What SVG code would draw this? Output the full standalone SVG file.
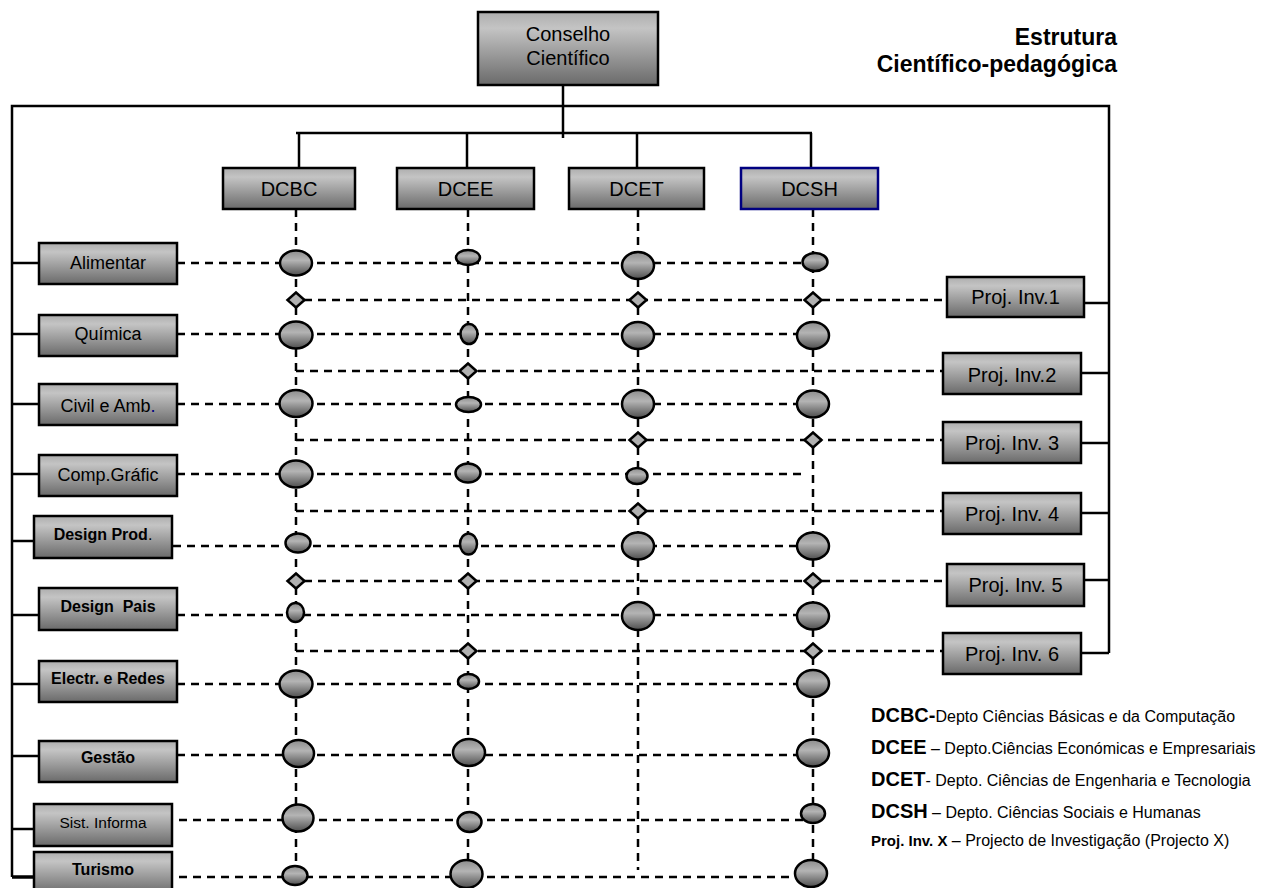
<svg xmlns="http://www.w3.org/2000/svg" width="1262" height="888" viewBox="0 0 1262 888">
<defs>
<linearGradient id="gbox" x1="0" y1="0" x2="0" y2="1">
<stop offset="0" stop-color="#adadad"/><stop offset="0.22" stop-color="#c4c4c4"/><stop offset="1" stop-color="#6a6a6a"/>
</linearGradient>
<linearGradient id="gell" x1="0" y1="0" x2="0" y2="1">
<stop offset="0" stop-color="#8c8c8c"/><stop offset="0.4" stop-color="#b4b4b4"/><stop offset="1" stop-color="#4e4e4e"/>
</linearGradient>
<style>
text{font-family:"Liberation Sans",Arial,Helvetica,sans-serif;fill:#000}
.box{fill:url(#gbox);stroke:#000;stroke-width:2.5}
.blue{stroke:#000080}
.solid{stroke:#000;stroke-width:2.5;fill:none}
.dash{stroke:#000;stroke-width:2.5;stroke-dasharray:8 6;fill:none}
.ell{fill:url(#gell);stroke:#000;stroke-width:2.5}
.dia{fill:#b0b0b0;stroke:#000;stroke-width:2.5}
.lbl{font-size:18px;text-anchor:middle}
.lblb{font-size:16px;font-weight:bold;text-anchor:middle}
.dep{font-size:20px;text-anchor:middle}
.ttl{font-size:23px;font-weight:bold;text-anchor:end}
.lgb{font-size:20px;font-weight:bold}
.lgd{font-size:16px;font-weight:normal}
</style>
</defs>
<rect width="1262" height="888" fill="#fff"/>

<g id="connectors">
<polyline class="solid" points="563,85 563,138"/>
<polyline class="solid" points="12,877 12,106 1109,106 1109,653"/>
<polyline class="solid" points="296,133 812,133"/>
<line class="solid" x1="299" y1="133" x2="299" y2="168"/>
<line class="solid" x1="467" y1="133" x2="467" y2="168"/>
<line class="solid" x1="637" y1="133" x2="637" y2="168"/>
<line class="solid" x1="811" y1="133" x2="811" y2="168"/>
<line class="solid" x1="12" y1="263" x2="39" y2="263"/>
<line class="solid" x1="12" y1="334" x2="39" y2="334"/>
<line class="solid" x1="12" y1="404" x2="39" y2="404"/>
<line class="solid" x1="12" y1="474" x2="39" y2="474"/>
<line class="solid" x1="12" y1="541" x2="34" y2="541"/>
<line class="solid" x1="12" y1="615" x2="39" y2="615"/>
<line class="solid" x1="12" y1="684" x2="39" y2="684"/>
<line class="solid" x1="12" y1="756" x2="39" y2="756"/>
<line class="solid" x1="12" y1="829" x2="37" y2="829"/>
<line class="solid" x1="12" y1="877" x2="37" y2="877" style="stroke-width:3.5"/>
<line class="solid" x1="1084" y1="303" x2="1109" y2="303"/>
<line class="solid" x1="1081" y1="373" x2="1109" y2="373"/>
<line class="solid" x1="1081" y1="443" x2="1109" y2="443"/>
<line class="solid" x1="1081" y1="513" x2="1109" y2="513"/>
<line class="solid" x1="1084" y1="580" x2="1109" y2="580"/>
<line class="solid" x1="1081" y1="653" x2="1109" y2="653"/>
<line class="dash" x1="296" y1="209" x2="296" y2="868"/>
<line class="dash" x1="468" y1="209" x2="468" y2="862"/>
<line class="dash" x1="638" y1="209" x2="638" y2="870"/>
<line class="dash" x1="813" y1="209" x2="813" y2="862"/>
<line class="dash" x1="177" y1="263" x2="803" y2="263"/>
<line class="dash" x1="177" y1="334" x2="800" y2="334"/>
<line class="dash" x1="177" y1="404" x2="800" y2="404"/>
<line class="dash" x1="177" y1="474" x2="805" y2="474"/>
<line class="dash" x1="173" y1="546" x2="800" y2="546"/>
<line class="dash" x1="177" y1="615" x2="800" y2="615"/>
<line class="dash" x1="177" y1="684" x2="800" y2="684"/>
<line class="dash" x1="177" y1="755" x2="800" y2="755"/>
<line class="dash" x1="179" y1="820" x2="803" y2="820"/>
<line class="dash" x1="179" y1="877" x2="797" y2="877"/>
<line class="dash" x1="304" y1="300" x2="947" y2="300"/>
<line class="dash" x1="296" y1="371" x2="943" y2="371"/>
<line class="dash" x1="296" y1="440" x2="943" y2="440"/>
<line class="dash" x1="296" y1="511" x2="943" y2="511"/>
<line class="dash" x1="304" y1="581" x2="947" y2="581"/>
<line class="dash" x1="296" y1="651" x2="943" y2="651"/>
</g>

<g id="links">
<ellipse class="ell" cx="296" cy="263" rx="16" ry="12.5"/>
<ellipse class="ell" cx="468" cy="257.5" rx="12" ry="7.5"/>
<ellipse class="ell" cx="638" cy="265.5" rx="16" ry="13.5"/>
<ellipse class="ell" cx="815" cy="262" rx="12.5" ry="9"/>
<ellipse class="ell" cx="296" cy="335" rx="16.5" ry="13.5"/>
<ellipse class="ell blue" cx="469" cy="334" rx="8.5" ry="10"/>
<ellipse class="ell" cx="638" cy="335.5" rx="16" ry="13.5"/>
<ellipse class="ell" cx="813" cy="335.5" rx="16" ry="13.5"/>
<ellipse class="ell" cx="296" cy="403.5" rx="16.5" ry="13.5"/>
<ellipse class="ell" cx="468.5" cy="404.5" rx="12.5" ry="7.5"/>
<ellipse class="ell" cx="638" cy="404" rx="16" ry="14"/>
<ellipse class="ell" cx="813" cy="404" rx="16" ry="13.5"/>
<ellipse class="ell" cx="296" cy="474" rx="16.5" ry="13.5"/>
<ellipse class="ell" cx="468" cy="473" rx="12.5" ry="9.5"/>
<ellipse class="ell" cx="637" cy="476" rx="10.5" ry="8"/>
<ellipse class="ell" cx="298" cy="543" rx="12.5" ry="9.5"/>
<ellipse class="ell" cx="468.5" cy="544" rx="8.5" ry="10.5"/>
<ellipse class="ell" cx="638" cy="546" rx="16" ry="13.5"/>
<ellipse class="ell" cx="813" cy="546" rx="16" ry="13.5"/>
<ellipse class="ell blue" cx="295.5" cy="612.5" rx="8.5" ry="9.5"/>
<ellipse class="ell" cx="638" cy="616" rx="16" ry="14"/>
<ellipse class="ell" cx="813" cy="616" rx="16" ry="13.5"/>
<ellipse class="ell" cx="296" cy="684" rx="16.5" ry="13.5"/>
<ellipse class="ell" cx="468.5" cy="681.5" rx="10.5" ry="7.5"/>
<ellipse class="ell" cx="813" cy="683.5" rx="16" ry="13.5"/>
<ellipse class="ell" cx="298.5" cy="753.5" rx="15.5" ry="13.5"/>
<ellipse class="ell" cx="469" cy="752.5" rx="16" ry="13.5"/>
<ellipse class="ell" cx="813" cy="753" rx="16" ry="13.5"/>
<ellipse class="ell" cx="298" cy="818" rx="15.5" ry="13.5"/>
<ellipse class="ell" cx="469.5" cy="822" rx="12" ry="10"/>
<ellipse class="ell" cx="813" cy="813.5" rx="12" ry="9.5"/>
<ellipse class="ell" cx="295" cy="875.5" rx="12.5" ry="9.5"/>
<ellipse class="ell" cx="466.5" cy="874" rx="16" ry="14"/>
<ellipse class="ell" cx="811" cy="873.5" rx="16" ry="13.5"/>
<polygon class="dia" points="296,292.5 304.5,300 296,307.5 287.5,300"/>
<polygon class="dia" points="638,292.5 646.5,300 638,307.5 629.5,300"/>
<polygon class="dia blue" points="813,292.5 821.5,300 813,307.5 804.5,300"/>
<polygon class="dia" points="468,363.5 476.5,371 468,378.5 459.5,371"/>
<polygon class="dia" points="638,432.5 646.5,440 638,447.5 629.5,440"/>
<polygon class="dia" points="813,432.5 821.5,440 813,447.5 804.5,440"/>
<polygon class="dia" points="638,503.5 646.5,511 638,518.5 629.5,511"/>
<polygon class="dia" points="296,573.5 304.5,581 296,588.5 287.5,581"/>
<polygon class="dia" points="468,573.5 476.5,581 468,588.5 459.5,581"/>
<polygon class="dia" points="813,573.5 821.5,581 813,588.5 804.5,581"/>
<polygon class="dia" points="468,643.5 476.5,651 468,658.5 459.5,651"/>
<polygon class="dia" points="813,643.5 821.5,651 813,658.5 804.5,651"/>
</g>

<g id="conselho">
<rect class="box" x="478" y="12" width="180" height="73"/>
<text class="dep" x="568" y="41">Conselho</text>
<text class="dep" x="568" y="65">Científico</text>
</g>

<g id="title">
<text class="ttl" x="1117" y="45">Estrutura</text>
<text class="ttl" x="1117" y="72">Científico-pedagógica</text>
</g>

<g id="dcbc"><rect class="box" x="223" y="168" width="132" height="41"/><text class="dep" x="289" y="196">DCBC</text></g>
<g id="dcee"><rect class="box" x="397" y="168" width="137" height="41"/><text class="dep" x="465.5" y="196">DCEE</text></g>
<g id="dcet"><rect class="box" x="569" y="168" width="135" height="41"/><text class="dep" x="636.5" y="196">DCET</text></g>
<g id="dcsh"><rect class="box blue" x="741" y="168" width="137" height="41"/><text class="dep" x="809.5" y="196">DCSH</text></g>

<g id="alimentar"><rect class="box" x="39" y="243" width="138" height="41"/><text class="lbl" x="108" y="269">Alimentar</text></g>
<g id="quimica"><rect class="box" x="39" y="315" width="138" height="41"/><text class="lbl" x="108" y="340">Química</text></g>
<g id="civil"><rect class="box" x="39" y="384" width="138" height="41"/><text class="lbl" x="108" y="412">Civil e Amb<tspan fill="#000080">.</tspan></text></g>
<g id="compgrafic"><rect class="box" x="39" y="455" width="138" height="41"/><text class="lbl" x="108" y="481">Comp.Gráfic</text></g>
<g id="designprod"><rect class="box" x="34" y="516" width="138" height="42"/><text class="lblb" x="103" y="540">Design Prod<tspan font-weight="normal">.</tspan></text></g>
<g id="designpais"><rect class="box" x="39" y="588" width="138" height="42"/><text class="lblb" x="108" y="612" xml:space="preserve">Design  Pais</text></g>
<g id="electr"><rect class="box" x="39" y="661" width="138" height="41"/><text class="lblb" x="108" y="684">Electr. e Redes</text></g>
<g id="gestao"><rect class="box" x="39" y="741" width="138" height="41"/><text class="lblb" x="108" y="763">Gestão</text></g>
<g id="sist"><rect class="box" x="34" y="804" width="138" height="42"/><text x="103" y="828" style="font-size:15.5px;text-anchor:middle">Sist. Informa</text></g>
<g id="turismo"><rect class="box" x="34" y="852" width="138" height="42"/><text class="lblb" x="103" y="875">Turismo</text></g>

<g id="proj1"><rect class="box" x="947" y="277" width="137" height="40"/><text class="dep" x="1015.5" y="304">Proj. Inv.1</text></g>
<g id="proj2"><rect class="box" x="943" y="353" width="138" height="41"/><text class="dep" x="1012" y="382">Proj. Inv.2</text></g>
<g id="proj3"><rect class="box" x="943" y="422" width="138" height="41"/><text class="dep" x="1012" y="450">Proj. Inv. 3</text></g>
<g id="proj4"><rect class="box" x="943" y="493" width="138" height="41"/><text class="dep" x="1012" y="521">Proj. Inv. 4</text></g>
<g id="proj5"><rect class="box" x="947" y="564" width="137" height="42"/><text class="dep" x="1015.5" y="592">Proj. Inv. 5</text></g>
<g id="proj6"><rect class="box" x="943" y="633" width="138" height="41"/><text class="dep" x="1012" y="661">Proj. Inv. 6</text></g>

<g id="legend">
<text class="lgb" x="871" y="722">DCBC-<tspan class="lgd">Depto Ciências Básicas e da Computação</tspan></text>
<text class="lgb" x="871" y="754" xml:space="preserve">DCEE<tspan class="lgd"> – Depto.Ciências Económicas e Empresariais</tspan></text>
<text class="lgb" x="871" y="786">DCET<tspan class="lgd">- Depto. Ciências de Engenharia e Tecnologia</tspan></text>
<text class="lgb" x="871" y="818" xml:space="preserve">DCSH<tspan class="lgd"> – Depto. Ciências Sociais e Humanas</tspan></text>
<text x="871" y="846" xml:space="preserve" style="font-size:15px;font-weight:bold">Proj. Inv. X<tspan class="lgd"> – Projecto de Investigação (Projecto X)</tspan></text>
</g>
</svg>
